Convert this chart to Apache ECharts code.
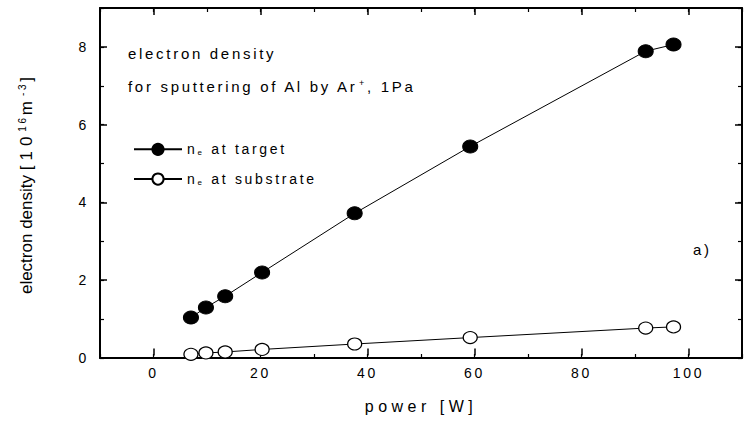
<!DOCTYPE html>
<html>
<head>
<meta charset="utf-8">
<script src="https://cdn.jsdelivr.net/npm/echarts@6/dist/echarts.min.js"></script>
<style>
  html, body { margin: 0; padding: 0; background: #fff; }
  #chart { width: 744px; height: 422px; }
  #chart text { letter-spacing: 2.7px; }
  #chart text[style*="16px"] { letter-spacing: 4.5px; }
  #chart text[style*="17px"] { letter-spacing: 5px; }
  #chart text[style*="Arial"] { letter-spacing: 0; }
</style>
</head>
<body>
<div id="chart"></div>
<script>
// ---- data ----
const power = [7.0, 9.8, 13.4, 20.3, 37.6, 59.2, 92.0, 97.2];
const neTarget = [1.04, 1.30, 1.59, 2.20, 3.72, 5.44, 7.89, 8.06];
const neSubstrate = [0.095, 0.13, 0.155, 0.22, 0.36, 0.525, 0.77, 0.80];
const seriesNames = ['ne at target', 'ne at substrate'];
const legendLabels = ['{n|n}{sub|e} at target', '{n|n}{sub|e} at substrate'];
const xTickLabels = [0, 20, 40, 60, 80, 100];
const yTickLabels = [0, 2, 4, 6, 8];

const FONT = '"Liberation Sans"';

// text measurement that matches the letter-spacing applied by the CSS above
function spacingFor(font) {
  font = font || '';
  if (font.indexOf('Arial') >= 0) return 0;
  if (font.indexOf('16px') >= 0) return 4.5;
  if (font.indexOf('17px') >= 0) return 5;
  return 2.7;
}
const mctx = document.createElement('canvas').getContext('2d');
echarts.setPlatformAPI({
  measureText(text, font) {
    mctx.font = font || '12px sans-serif';
    const s = String(text == null ? '' : text);
    return { width: mctx.measureText(s).width + spacingFor(font) * s.length };
  }
});

const chart = echarts.init(document.getElementById('chart'), null, { renderer: 'svg' });

const pairs = (xs, ys) => xs.map((x, i) => [x, ys[i]]);
const minorAxisBase = {
  axisLine: { show: true, onZero: false, lineStyle: { color: '#000', width: 2 } },
  axisTick: { show: true, inside: true, length: 4, lineStyle: { color: '#000', width: 1.2 } },
  axisLabel: { show: false },
  splitLine: { show: false }
};
const majorAxisBase = {
  axisLine: { show: false, onZero: false },
  axisTick: { show: true, inside: true, length: 7, lineStyle: { color: '#000', width: 1.5 } },
  splitLine: { show: false }
};

const option = {
  animation: false,
  backgroundColor: '#fff',
  textStyle: { fontFamily: FONT, color: '#000' },
  grid: [
    { left: 100, right: 2, top: 8, bottom: 64, containLabel: false },
    { left: 153.5, right: 55.5, top: 8, bottom: 64, containLabel: false }
  ],
  xAxis: [
    Object.assign({ type: 'value', gridIndex: 0, position: 'bottom', min: -10, max: 110, interval: 10 }, minorAxisBase),
    Object.assign({ type: 'value', gridIndex: 0, position: 'top', min: -10, max: 110, interval: 10 }, minorAxisBase),
    Object.assign({
      type: 'value', gridIndex: 1, position: 'bottom', min: 0, max: 100, interval: 20,
      axisLabel: {
        show: true, color: '#000', fontSize: 14, fontFamily: FONT, margin: 9,
        formatter: v => (xTickLabels.indexOf(v) >= 0 ? String(v) : '')
      },
      name: 'power [W]', nameLocation: 'middle', nameGap: 41,
      nameTextStyle: { fontSize: 16, fontFamily: FONT, color: '#000' }
    }, majorAxisBase),
    Object.assign({
      type: 'value', gridIndex: 1, position: 'top', min: 0, max: 100, interval: 20,
      axisLabel: { show: false }
    }, majorAxisBase)
  ],
  yAxis: [
    Object.assign({ type: 'value', gridIndex: 0, position: 'left', min: 0, max: 9, interval: 1 }, minorAxisBase),
    Object.assign({ type: 'value', gridIndex: 0, position: 'right', min: 0, max: 9, interval: 1 }, minorAxisBase),
    Object.assign({
      type: 'value', gridIndex: 0, position: 'left', min: 0, max: 9, interval: 2,
      axisLabel: {
        show: true, color: '#000', fontSize: 14, fontFamily: FONT, margin: 11,
        formatter: v => (yTickLabels.indexOf(v) >= 0 ? String(v) : '')
      },
      name: '{a|electron density }{b|[10}{sup|16}{b|m}{sup|-3}{b|]}', nameLocation: 'middle', nameGap: 64,
      nameTextStyle: {
        fontSize: 17, fontFamily: 'Arial', color: '#000', lineHeight: 20,
        rich: {
          a: { fontSize: 17, fontFamily: 'Arial', lineHeight: 20, color: '#000' },
          b: { fontSize: 17, fontFamily: FONT, lineHeight: 20, color: '#000' },
          sup: { fontSize: 10, fontFamily: FONT, lineHeight: 10, verticalAlign: 'top', color: '#000' }
        }
      }
    }, majorAxisBase),
    Object.assign({
      type: 'value', gridIndex: 0, position: 'right', min: 0, max: 9, interval: 2,
      axisLabel: { show: false }
    }, majorAxisBase),
    { type: 'value', gridIndex: 1, min: 0, max: 9, show: false }
  ],
  legend: {
    left: 133, top: 141, padding: 0, orient: 'vertical', itemWidth: 48, itemHeight: 14, itemGap: 13,
    data: seriesNames,
    formatter: name => legendLabels[seriesNames.indexOf(name)],
    textStyle: {
      fontSize: 14, fontFamily: FONT, color: '#000',
      rich: {
        n: { fontSize: 14, fontFamily: FONT, lineHeight: 16, color: '#000' },
        sub: { fontSize: 8, fontFamily: FONT, lineHeight: 8, verticalAlign: 'bottom', color: '#000' }
      }
    }
  },
  graphic: [
    { type: 'text', left: 128, top: 45,
      style: { text: 'electron density', fontSize: 15, fontFamily: FONT, fill: '#000' } },
    { type: 'text', left: 128, top: 77,
      style: { text: 'for sputtering of Al by Ar{sup|+}, 1Pa', fontSize: 15, fontFamily: FONT, fill: '#000',
               lineHeight: 18,
               rich: { sup: { fontSize: 9, fontFamily: FONT, lineHeight: 9, verticalAlign: 'top', fill: '#000' } } } },
    { type: 'text', left: 693, top: 241,
      style: { text: 'a)', fontSize: 15, fontFamily: FONT, fill: '#000' } }
  ],
  series: [
    {
      name: seriesNames[0], type: 'line', xAxisIndex: 0, yAxisIndex: 0,
      data: pairs(power, neTarget),
      symbol: 'circle', symbolSize: [15, 13],
      lineStyle: { color: '#000', width: 1 },
      itemStyle: { color: '#000', borderColor: '#000', borderWidth: 1 },
      z: 3
    },
    {
      name: seriesNames[1], type: 'line', xAxisIndex: 0, yAxisIndex: 0,
      data: pairs(power, neSubstrate),
      symbol: 'circle', symbolSize: [14, 12],
      lineStyle: { color: '#000', width: 1 },
      itemStyle: { color: '#fff', borderColor: '#000', borderWidth: 1.2 },
      z: 3
    }
  ]
};
chart.setOption(option);
</script>
</body>
</html>
